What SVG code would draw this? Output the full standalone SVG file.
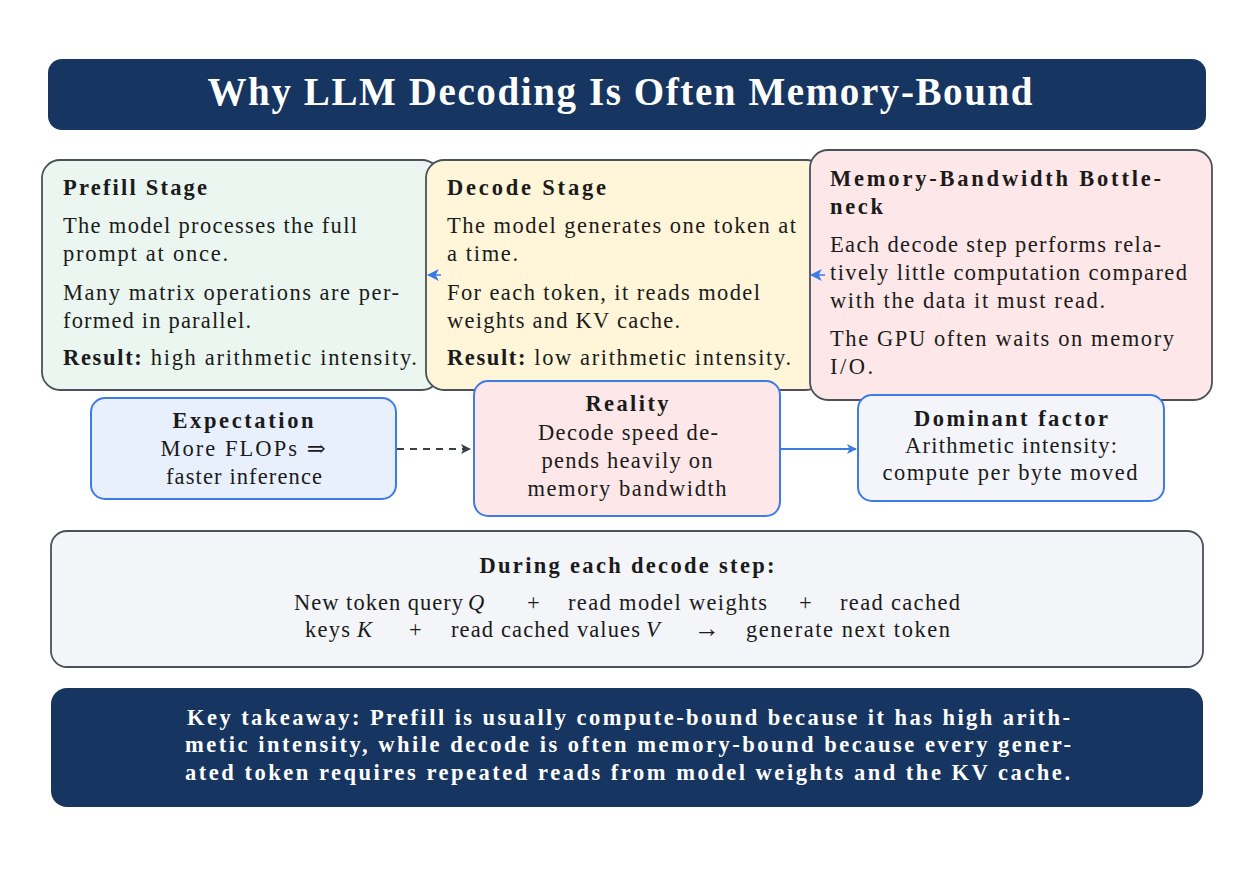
<svg xmlns="http://www.w3.org/2000/svg" width="1238" height="882" viewBox="0 0 1238 882">
<defs>
<style>
text{font-family:"Liberation Serif","DejaVu Serif",serif;fill:#1b1b1b;}
.t{font-size:22.5px;}
.b{font-size:22.5px;font-weight:bold;}
.c{text-anchor:middle;}
.title{font-size:39px;font-weight:bold;fill:#ffffff;}
.tk{font-size:22.5px;font-weight:bold;fill:#ffffff;}
.card{stroke:#4b515a;stroke-width:1.8;}
.bl{stroke:#3d7be6;stroke-width:2;}
.dark{fill:#163560;}
</style>
<marker id="ab" viewBox="0 0 10 10" refX="9" refY="5" markerWidth="5" markerHeight="5" orient="auto"><path d="M0,0 L10,5 L0,10 L2.5,5 Z" fill="#3d7be6"/></marker>
<marker id="ab2" viewBox="0 0 10 10" refX="9" refY="5" markerWidth="8" markerHeight="8" orient="auto"><path d="M0,0 L10,5 L0,10 L2.5,5 Z" fill="#3d7be6"/></marker>
<marker id="ad" viewBox="0 0 10 10" refX="9" refY="5" markerWidth="5" markerHeight="5" orient="auto"><path d="M0,0 L10,5 L0,10 L2.5,5 Z" fill="#3a3f48"/></marker>
</defs>
<rect width="1238" height="882" fill="#ffffff"/>

<g id="title">
<rect class="dark" x="48" y="59" width="1158" height="71" rx="14"/>
<text class="title c" x="620" y="105" textLength="825">Why LLM Decoding Is Often Memory-Bound</text>
</g>

<g id="prefill">
<rect class="card" x="42" y="160" width="398" height="230" rx="18" fill="#eaf6ef"/>
<text class="b" x="63" y="195" textLength="144">Prefill Stage</text>
<text class="t" x="63" y="233" textLength="294">The model processes the full</text>
<text class="t" x="63" y="261" textLength="165">prompt at once.</text>
<text class="t" x="63" y="300" textLength="336">Many matrix operations are per-</text>
<text class="t" x="63" y="328" textLength="188">formed in parallel.</text>
<text class="t" x="63" y="365" textLength="354"><tspan font-weight="bold">Result:</tspan> high arithmetic intensity.</text>
</g>

<g id="decode">
<rect class="card" x="426" y="160" width="398" height="230" rx="18" fill="#fff5d9"/>
<text class="b" x="447" y="195" textLength="159">Decode Stage</text>
<text class="t" x="447" y="233" textLength="349">The model generates one token at</text>
<text class="t" x="447" y="261" textLength="71">a time.</text>
<text class="t" x="447" y="300" textLength="313">For each token, it reads model</text>
<text class="t" x="447" y="328" textLength="233">weights and KV cache.</text>
<text class="t" x="447" y="365" textLength="344"><tspan font-weight="bold">Result:</tspan> low arithmetic intensity.</text>
</g>

<g id="memory">
<rect class="card" x="810" y="150" width="402" height="250" rx="18" fill="#fde7e8"/>
<text class="b" x="830" y="186" textLength="331">Memory-Bandwidth Bottle-</text>
<text class="b" x="830" y="214" textLength="53">neck</text>
<text class="t" x="830" y="252" textLength="331">Each decode step performs rela-</text>
<text class="t" x="830" y="280" textLength="357">tively little computation compared</text>
<text class="t" x="830" y="308" textLength="275">with the data it must read.</text>
<text class="t" x="830" y="346" textLength="344">The GPU often waits on memory</text>
<text class="t" x="830" y="374" textLength="43">I/O.</text>
</g>

<g id="expectation">
<rect class="bl" x="91" y="398" width="305" height="101" rx="14" fill="#e8f0fd"/>
<text class="b c" x="243" y="428" textLength="141">Expectation</text>
<text class="t c" x="243" y="456" textLength="165">More FLOPs ⇒</text>
<text class="t c" x="244" y="484" textLength="156">faster inference</text>
</g>

<g id="reality">
<rect class="bl" x="474" y="381" width="306" height="135" rx="14" fill="#fde7e8"/>
<text class="b c" x="627" y="411" textLength="83">Reality</text>
<text class="t c" x="628" y="440" textLength="180">Decode speed de-</text>
<text class="t c" x="627" y="468" textLength="171">pends heavily on</text>
<text class="t c" x="627" y="496" textLength="199">memory bandwidth</text>
</g>

<g id="dominant">
<rect class="bl" x="858" y="395" width="306" height="106" rx="14" fill="#f3f5fa"/>
<text class="b c" x="1011" y="426" textLength="194">Dominant factor</text>
<text class="t c" x="1011" y="453" textLength="212">Arithmetic intensity:</text>
<text class="t c" x="1010" y="480" textLength="255">compute per byte moved</text>
</g>

<g id="decode-step">
<rect class="card" x="51" y="531" width="1152" height="136" rx="16" fill="#f3f5f9"/>
<text class="b c" x="627" y="573" textLength="295">During each decode step:</text>
<text class="t" y="610"><tspan x="294" textLength="169">New token query</tspan><tspan x="468" font-style="italic">Q</tspan><tspan x="527">+</tspan><tspan x="568" textLength="199">read model weights</tspan><tspan x="799">+</tspan><tspan x="840" textLength="120">read cached</tspan></text>
<text class="t" y="637"><tspan x="305" textLength="45">keys</tspan><tspan x="357" font-style="italic">K</tspan><tspan x="409">+</tspan><tspan x="451" textLength="189">read cached values</tspan><tspan x="646" font-style="italic">V</tspan><tspan x="694" font-size="26">→</tspan><tspan x="746" textLength="204">generate next token</tspan></text>
</g>

<g id="takeaway">
<rect class="dark" x="51" y="688" width="1152" height="119" rx="16"/>
<text class="tk" x="187" y="725" textLength="883">Key takeaway: Prefill is usually compute-bound because it has high arith-</text>
<text class="tk" x="185" y="752" textLength="886">metic intensity, while decode is often memory-bound because every gener-</text>
<text class="tk" x="185" y="780" textLength="885">ated token requires repeated reads from model weights and the KV cache.</text>
</g>

<g id="connectors">
<line x1="441" y1="275" x2="428" y2="275" stroke="#3d7be6" stroke-width="1.5" marker-end="url(#ab2)"/>
<line x1="825" y1="275" x2="811" y2="275" stroke="#3d7be6" stroke-width="1.5" marker-end="url(#ab2)"/>
<line x1="397" y1="449" x2="470" y2="449" stroke="#3a3f48" stroke-width="2" stroke-dasharray="7,6" marker-end="url(#ad)"/>
<line x1="780" y1="449" x2="856" y2="449" stroke="#3d7be6" stroke-width="2" marker-end="url(#ab)"/>
</g>
</svg>
